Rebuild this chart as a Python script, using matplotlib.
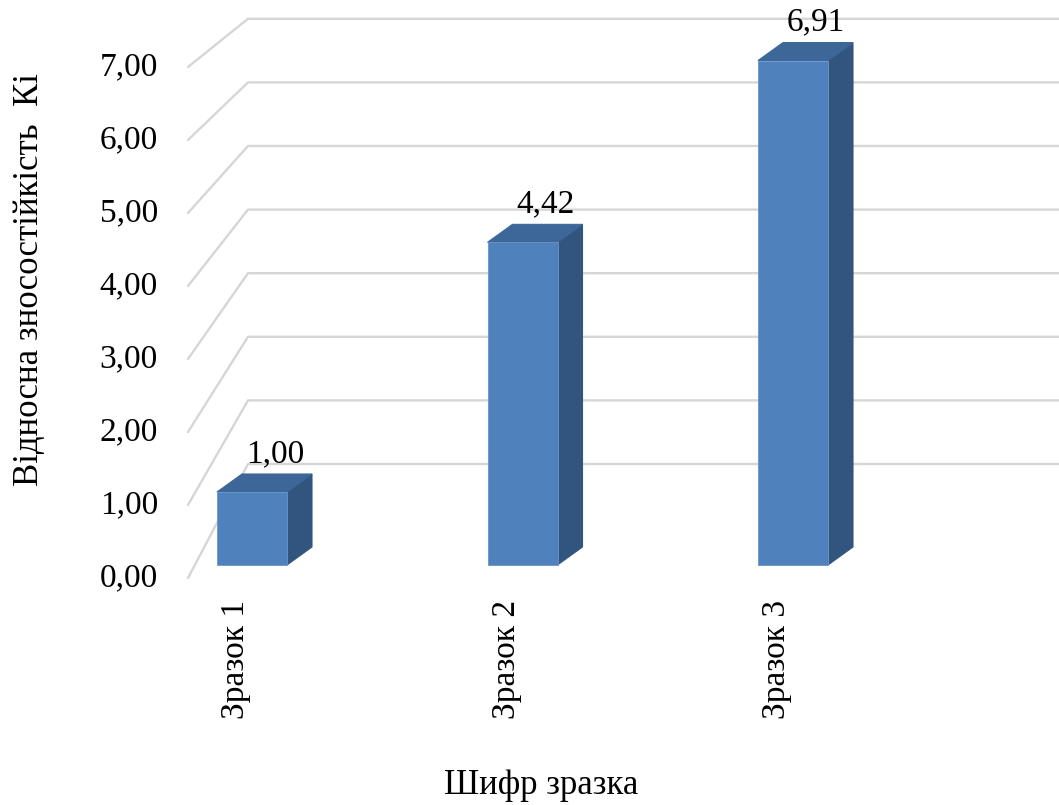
import matplotlib
matplotlib.use('Agg')
import matplotlib.pyplot as plt
from matplotlib.patches import Polygon

plt.rcParams['font.family'] = ['Liberation Serif', 'DejaVu Serif']

samples = ['Зразок 1', 'Зразок 2', 'Зразок 3']
wear = [1.00, 4.42, 6.91]
ticks = [0, 1, 2, 3, 4, 5, 6, 7]

W, H = 1059, 805

# geometry of the fake 3D box, in pixels
CAT_PX = 270.5      # distance between bar centres
X0_PX = 252         # centre of first bar
Y0_PX = 565         # bar base line
UNIT_PX = 73.0      # one unit of value on the bar face
WALL_X_PX = 188     # front edge of the left wall
BACK_X_PX = 248     # back wall starts here
BACK_Y0_PX = 464    # zero on the back wall
BACK_UNIT_PX = 63.6
WALL_Y0_PX = 578    # zero on the wall front edge
BAR_W_PX = 70
DEPTH_X_PX, DEPTH_Y_PX = 25, 18

FRONT = '#4F81BD'
TOP = '#3D6699'
SIDE = '#32557F'
GRID = '#D6D6D6'


def dx(px):
    return px / CAT_PX


def dy(px):
    return px / UNIT_PX


def xpos(px):
    return (px - X0_PX) / CAT_PX


def back_u(v):
    return dy(Y0_PX - BACK_Y0_PX) + v * BACK_UNIT_PX / UNIT_PX


def wall_u(v):
    return dy(Y0_PX - WALL_Y0_PX) + v


fig = plt.figure(figsize=(W / 100, H / 100), dpi=100)
ax = fig.add_axes([0, 0, 1, 1])
ax.set_xlim(xpos(0), xpos(W))
ax.set_ylim(dy(Y0_PX - H), dy(Y0_PX))
ax.axis('off')

# wall gridlines: diagonal on the left wall, then flat on the back wall
for t in ticks:
    ax.plot([xpos(WALL_X_PX), xpos(BACK_X_PX), xpos(W + 10)],
            [wall_u(t), back_u(t), back_u(t)],
            color=GRID, lw=1.7, solid_capstyle='round', zorder=1)
    ax.text(xpos(158), wall_u(t), f'{t:.2f}'.replace('.', ','),
            ha='right', va='center', fontsize=24)

# bars with front, side and top faces
bw = dx(BAR_W_PX)
ddx, ddy = dx(DEPTH_X_PX), dy(DEPTH_Y_PX)
for i, (name, v) in enumerate(zip(samples, wear)):
    l, r = i - bw / 2, i + bw / 2
    ax.add_patch(Polygon([(r, 0), (r + ddx, ddy), (r + ddx, v + ddy), (r, v)],
                         closed=True, fc=SIDE, ec=SIDE, lw=0.8, zorder=3))
    ax.add_patch(Polygon([(l, v), (r, v), (r + ddx, v + ddy), (l + ddx, v + ddy)],
                         closed=True, fc=TOP, ec=TOP, lw=0.8, zorder=3))
    ax.bar(i, v, width=bw, bottom=0, color=FRONT, edgecolor='#6C95C8',
           linewidth=0.6, zorder=4)
    ax.text(i + ddx - dx(2), v + ddy + dy(5), f'{v:.2f}'.replace('.', ','),
            ha='center', va='bottom', fontsize=24, zorder=5)
    ax.text(i - dx(16), dy(Y0_PX - 600), name, rotation=90,
            ha='center', va='top', fontsize=24)

ax.text(xpos(541), dy(Y0_PX - 785), 'Шифр зразка', ha='center', va='center',
        fontsize=25)
ax.text(xpos(30), dy(Y0_PX - 280), 'Відносна зносостійкість  Кі', rotation=90,
        ha='center', va='center', fontsize=25)

fig.savefig('out.png', dpi=100)
